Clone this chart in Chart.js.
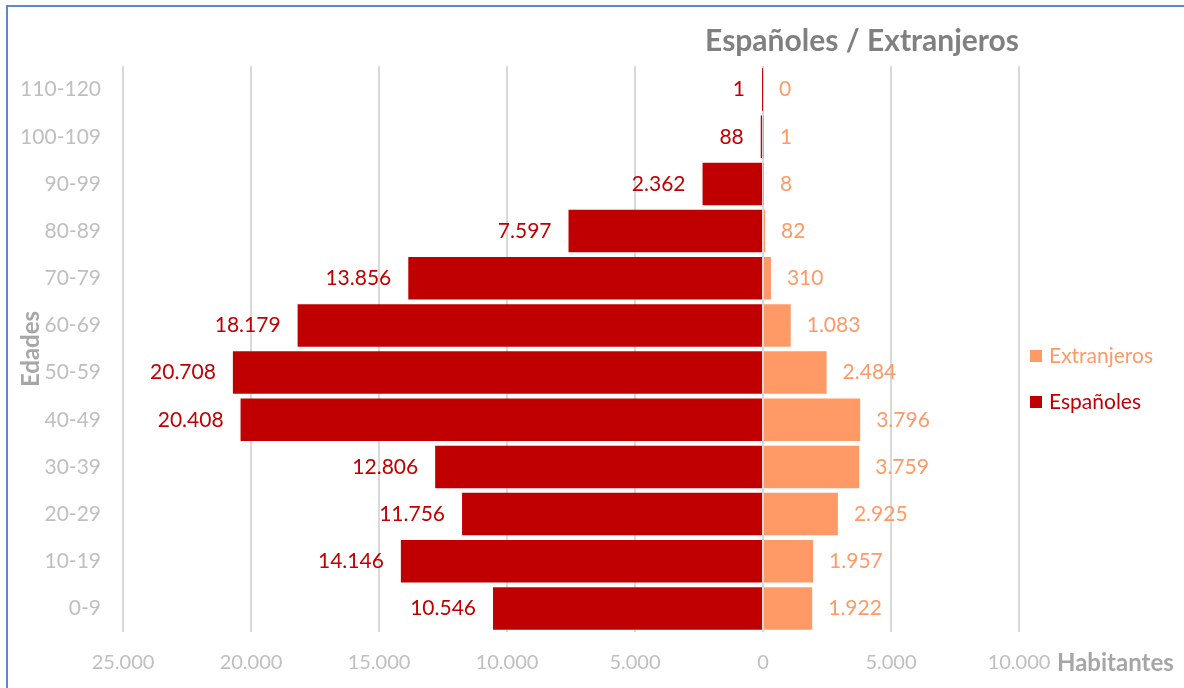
<!DOCTYPE html>
<html>
<head>
<meta charset="utf-8">
<script src="https://cdn.jsdelivr.net/npm/chart.js@4/dist/chart.umd.min.js"></script>
<style>
  html, body { margin: 0; padding: 0; background: #fff; overflow: hidden; }
  #wrap { position: relative; width: 1184px; height: 688px; }
  #frame {
    position: absolute; left: 6px; top: 5px; width: 1300px; height: 800px;
    border-left: 2px solid #5B8AC8; border-top: 2px solid #5B8AC8;
    pointer-events: none;
  }
  canvas { position: absolute; left: 0; top: 0; }
</style>
</head>
<body>
<div id="wrap">
  <div id="frame"></div>
  <canvas id="pyramid" width="1184" height="688"></canvas>
</div>
<script>
// age groups, bottom to top
const ageGroups = ['0-9', '10-19', '20-29', '30-39', '40-49', '50-59', '60-69', '70-79', '80-89', '90-99', '100-109', '110-120'];
const espanoles = [10546, 14146, 11756, 12806, 20408, 20708, 18179, 13856, 7597, 2362, 88, 1];
const extranjeros = [1922, 1957, 2925, 3759, 3796, 2484, 1083, 310, 82, 8, 1, 0];
const xTicks = [-25000, -20000, -15000, -10000, -5000, 0, 5000, 10000];

const RED = '#C00000';
const ORANGE = '#FF9966';
const FONT = 'Lato, "Noto Sans", sans-serif';

// 12345 -> "12.345"
const fmt = n => String(Math.abs(n)).replace(/\B(?=(\d{3})+(?!\d))/g, '.');

// value labels, legend and the "Habitantes" axis caption
const extrasPlugin = {
  id: 'extras',
  afterDatasetsDraw(chart) {
    const ctx = chart.ctx;
    ctx.save();
    ctx.font = '21px ' + FONT;
    ctx.textBaseline = 'middle';
    chart.data.datasets.forEach((ds, i) => {
      const meta = chart.getDatasetMeta(i);
      meta.data.forEach((bar, j) => {
        const v = ds.data[j];
        ctx.fillStyle = ds.labelColor;
        if (v < 0 || (v === 0 && i === 0)) {
          ctx.textAlign = 'right';
          ctx.fillText(fmt(v), Math.min(bar.x, bar.base) - 17, bar.y);
        } else {
          ctx.textAlign = 'left';
          ctx.fillText(fmt(v), Math.max(bar.x, bar.base) + 16, bar.y);
        }
      });
    });

    const area = chart.chartArea;
    // legend
    const items = [
      { text: 'Extranjeros', color: ORANGE },
      { text: 'Españoles', color: RED }
    ];
    items.forEach((it, k) => {
      const cy = 356 + k * 46;
      ctx.fillStyle = it.color;
      ctx.fillRect(area.right + 11, cy - 6, 12, 12);
      ctx.textAlign = 'left';
      ctx.fillText(it.text, area.right + 30, cy);
    });

    // x axis caption
    ctx.font = 'bold 24px ' + FONT;
    ctx.fillStyle = '#A6A6A6';
    ctx.textAlign = 'left';
    ctx.fillText('Habitantes', area.right + 38, 663);
    ctx.restore();
  }
};

const ctx = document.getElementById('pyramid').getContext('2d');
const chart = new Chart(ctx, {
  type: 'bar',
  data: {
    labels: ageGroups,
    datasets: [
      {
        label: 'Españoles',
        data: espanoles.map(v => -v),
        backgroundColor: RED,
        labelColor: RED,
        barPercentage: 0.9,
        categoryPercentage: 1
      },
      {
        label: 'Extranjeros',
        data: extranjeros,
        backgroundColor: ORANGE,
        labelColor: ORANGE,
        barPercentage: 0.9,
        categoryPercentage: 1
      }
    ]
  },
  options: {
    indexAxis: 'y',
    responsive: false,
    animation: false,
    layout: { padding: { top: 10, left: 13, right: 165, bottom: 0 } },
    plugins: {
      legend: { display: false },
      tooltip: { enabled: false },
      title: {
        display: true,
        text: 'Españoles / Extranjeros',
        align: 'end',
        fullSize: false,
        color: '#808080',
        font: { family: FONT, size: 30, weight: 'bold' },
        padding: { top: 13, bottom: 7 }
      }
    },
    scales: {
      x: {
        stacked: true,
        min: -25000,
        max: 10000,
        afterBuildTicks: scale => { scale.ticks = xTicks.map(v => ({ value: v })); },
        afterFit: scale => { scale.height = 56; },
        grid: { color: '#D9D9D9', lineWidth: 2, drawTicks: false },
        border: { display: false },
        ticks: {
          padding: 19,
          color: '#BFBFBF',
          font: { family: FONT, size: 20 }
        ,
          callback: v => fmt(v)
        }
      },
      y: {
        stacked: true,
        reverse: true,
        afterFit: scale => { scale.width = 110; },
        grid: { display: false, drawTicks: false },
        border: { display: false },
        ticks: {
          padding: 22,
          color: '#BFBFBF',
          font: { family: FONT, size: 21 }
        },
        title: {
          display: true,
          text: 'Edades',
          color: '#A6A6A6',
          font: { family: FONT, size: 24, weight: 'bold' },
          padding: { top: 4, bottom: 4 }
        }
      }
    }
  },
  plugins: [extrasPlugin]
});
</script>
</body>
</html>
